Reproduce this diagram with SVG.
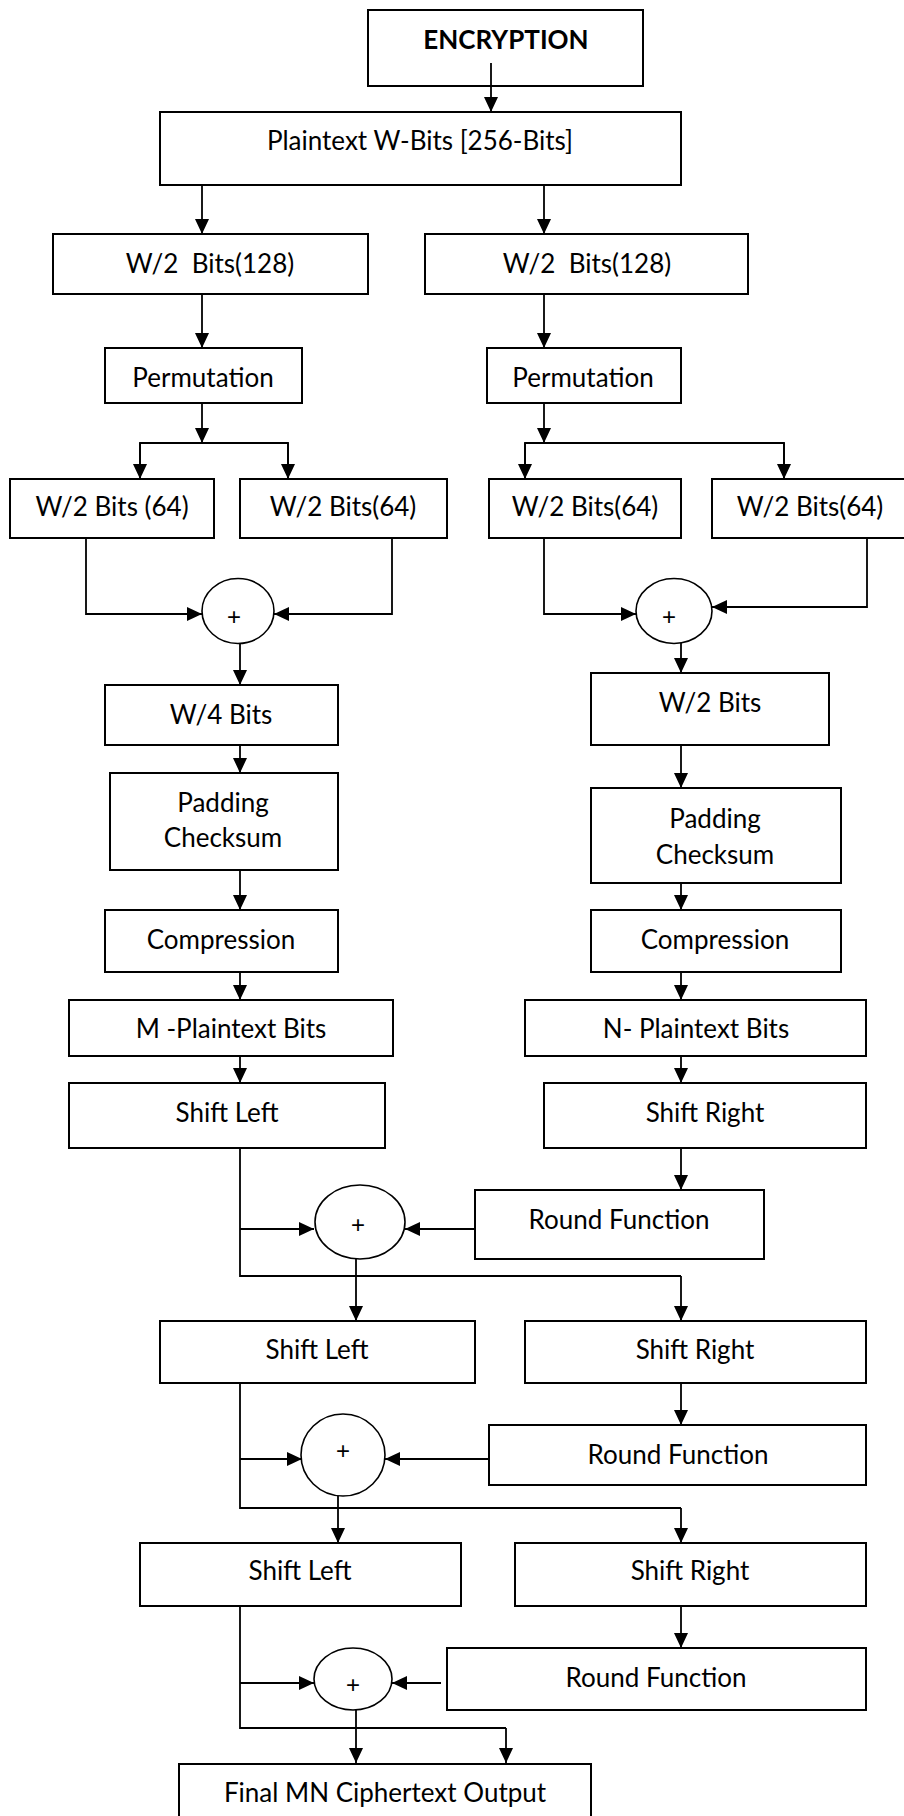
<svg xmlns="http://www.w3.org/2000/svg" width="904" height="1816" viewBox="0 0 904 1816">
<style>
.box{fill:#fff;stroke:#000;stroke-width:2}
.op{fill:#fff;stroke:#000;stroke-width:1.6}
.ln{fill:none;stroke:#000;stroke-width:1.8}
.arr{fill:none;stroke:#000;stroke-width:1.8;marker-end:url(#ah)}
text{font-family:Lato,"Liberation Sans",sans-serif;font-size:26px;fill:#000;text-anchor:middle}
.b{font-weight:bold}
.p{font-family:"Liberation Sans",sans-serif;font-size:24px}
</style>
<defs>
<marker id="ah" markerUnits="userSpaceOnUse" markerWidth="15" markerHeight="14" refX="15" refY="7" orient="auto">
<path d="M0,0 L15,7 L0,14 z" fill="#000"/>
</marker>
</defs>
<rect width="904" height="1816" fill="#fff"/>
<g id="encryption"><rect class="box" x="368" y="10" width="275" height="76"/><text class="b" x="506" y="49">ENCRYPTION</text></g>
<g id="plaintext"><rect class="box" x="160" y="112" width="521" height="73"/><text x="420" y="150">Plaintext W-Bits [256-Bits]</text></g>
<g id="w128-left"><rect class="box" x="53" y="234" width="315" height="60"/><text x="210" y="273" xml:space="preserve">W/2  Bits(128)</text></g>
<g id="w128-right"><rect class="box" x="425" y="234" width="323" height="60"/><text x="587" y="273" xml:space="preserve">W/2  Bits(128)</text></g>
<g id="perm-left"><rect class="box" x="105" y="348" width="197" height="55"/><text x="203" y="387">Permutation</text></g>
<g id="perm-right"><rect class="box" x="487" y="348" width="194" height="55"/><text x="583" y="387">Permutation</text></g>
<g id="w64-a"><rect class="box" x="10" y="479" width="204" height="59"/><text x="112" y="516">W/2 Bits (64)</text></g>
<g id="w64-b"><rect class="box" x="240" y="479" width="207" height="59"/><text x="343" y="516">W/2 Bits(64)</text></g>
<g id="w64-c"><rect class="box" x="489" y="479" width="192" height="59"/><text x="585" y="516">W/2 Bits(64)</text></g>
<g id="w64-d"><rect class="box" x="712" y="479" width="200" height="59"/><text x="810" y="516">W/2 Bits(64)</text></g>
<g id="xor-1"><ellipse class="op" cx="238" cy="611" rx="36" ry="32.5"/><text class="p" x="234" y="625">+</text></g>
<g id="xor-2"><ellipse class="op" cx="674" cy="611" rx="38" ry="32.5"/><text class="p" x="669" y="625">+</text></g>
<g id="w4"><rect class="box" x="105" y="685" width="233" height="60"/><text x="221" y="724">W/4 Bits</text></g>
<g id="w2"><rect class="box" x="591" y="673" width="238" height="72"/><text x="710" y="712">W/2 Bits</text></g>
<g id="pad-left"><rect class="box" x="110" y="773" width="228" height="97"/><text x="223" y="812">Padding</text><text x="223" y="847">Checksum</text></g>
<g id="pad-right"><rect class="box" x="591" y="788" width="250" height="95"/><text x="715" y="828">Padding</text><text x="715" y="864">Checksum</text></g>
<g id="comp-left"><rect class="box" x="105" y="910" width="233" height="62"/><text x="221" y="949">Compression</text></g>
<g id="comp-right"><rect class="box" x="591" y="910" width="250" height="62"/><text x="715" y="949">Compression</text></g>
<g id="m-plain"><rect class="box" x="69" y="1000" width="324" height="56"/><text x="231" y="1038">M -Plaintext Bits</text></g>
<g id="n-plain"><rect class="box" x="525" y="1000" width="341" height="56"/><text x="696" y="1038">N- Plaintext Bits</text></g>
<g id="shl-1"><rect class="box" x="69" y="1083" width="316" height="65"/><text x="227" y="1122">Shift Left</text></g>
<g id="shr-1"><rect class="box" x="544" y="1083" width="322" height="65"/><text x="705" y="1122">Shift Right</text></g>
<g id="rf-1"><rect class="box" x="475" y="1190" width="289" height="69"/><text x="619" y="1229">Round Function</text></g>
<g id="xor-3"><ellipse class="op" cx="360" cy="1222" rx="45" ry="37"/><text class="p" x="358" y="1233">+</text></g>
<g id="shl-2"><rect class="box" x="160" y="1321" width="315" height="62"/><text x="317" y="1359">Shift Left</text></g>
<g id="shr-2"><rect class="box" x="525" y="1321" width="341" height="62"/><text x="695" y="1359">Shift Right</text></g>
<g id="rf-2"><rect class="box" x="489" y="1425" width="377" height="60"/><text x="678" y="1464">Round Function</text></g>
<g id="xor-4"><ellipse class="op" cx="343" cy="1455" rx="42" ry="41"/><text class="p" x="343" y="1459">+</text></g>
<g id="shl-3"><rect class="box" x="140" y="1543" width="321" height="63"/><text x="300" y="1580">Shift Left</text></g>
<g id="shr-3"><rect class="box" x="515" y="1543" width="351" height="63"/><text x="690" y="1580">Shift Right</text></g>
<g id="rf-3"><rect class="box" x="447" y="1648" width="419" height="62"/><text x="656" y="1687">Round Function</text></g>
<g id="xor-5"><ellipse class="op" cx="353" cy="1679" rx="39" ry="31"/><text class="p" x="353" y="1693">+</text></g>
<g id="final"><rect class="box" x="179" y="1764" width="412" height="70"/><text x="385" y="1802">Final MN Ciphertext Output</text></g>
<g id="connectors">
<line class="arr" x1="491" y1="63" x2="491" y2="112"/>
<line class="arr" x1="202" y1="185" x2="202" y2="234"/>
<line class="arr" x1="544" y1="185" x2="544" y2="234"/>
<line class="arr" x1="202" y1="294" x2="202" y2="348"/>
<line class="arr" x1="544" y1="294" x2="544" y2="348"/>
<line class="arr" x1="202" y1="403" x2="202" y2="443"/>
<polyline class="ln" points="140,479 140,443 288,443 288,479"/>
<line class="arr" x1="140" y1="443" x2="140" y2="479"/>
<line class="arr" x1="288" y1="443" x2="288" y2="479"/>
<line class="arr" x1="544" y1="403" x2="544" y2="443"/>
<polyline class="ln" points="525,479 525,443 784,443 784,479"/>
<line class="arr" x1="525" y1="443" x2="525" y2="479"/>
<line class="arr" x1="784" y1="443" x2="784" y2="479"/>
<polyline class="arr" points="86,538 86,614 202,614"/>
<polyline class="arr" points="392,538 392,614 274,614"/>
<polyline class="arr" points="544,538 544,614 636,614"/>
<polyline class="arr" points="867,538 867,607 712,607"/>
<line class="arr" x1="240" y1="643" x2="240" y2="685"/>
<line class="arr" x1="681" y1="643" x2="681" y2="673"/>
<line class="arr" x1="240" y1="745" x2="240" y2="773"/>
<line class="arr" x1="240" y1="870" x2="240" y2="910"/>
<line class="arr" x1="240" y1="972" x2="240" y2="1000"/>
<line class="arr" x1="240" y1="1056" x2="240" y2="1083"/>
<line class="arr" x1="681" y1="745" x2="681" y2="788"/>
<line class="arr" x1="681" y1="883" x2="681" y2="910"/>
<line class="arr" x1="681" y1="972" x2="681" y2="1000"/>
<line class="arr" x1="681" y1="1056" x2="681" y2="1083"/>
<line class="arr" x1="681" y1="1148" x2="681" y2="1190"/>
<polyline class="ln" points="240,1148 240,1276 681,1276"/>
<line class="arr" x1="240" y1="1229" x2="314" y2="1229"/>
<line class="arr" x1="681" y1="1276" x2="681" y2="1321"/>
<line class="arr" x1="475" y1="1229" x2="405" y2="1229"/>
<line class="arr" x1="356" y1="1259" x2="356" y2="1321"/>
<line class="arr" x1="681" y1="1383" x2="681" y2="1425"/>
<polyline class="ln" points="240,1383 240,1508 681,1508"/>
<line class="arr" x1="240" y1="1459" x2="302" y2="1459"/>
<line class="arr" x1="681" y1="1508" x2="681" y2="1543"/>
<line class="arr" x1="489" y1="1459" x2="385" y2="1459"/>
<line class="arr" x1="338" y1="1496" x2="338" y2="1543"/>
<line class="arr" x1="681" y1="1606" x2="681" y2="1648"/>
<polyline class="ln" points="240,1606 240,1728 506,1728"/>
<line class="arr" x1="240" y1="1683" x2="314" y2="1683"/>
<line class="arr" x1="506" y1="1728" x2="506" y2="1763"/>
<line class="arr" x1="441" y1="1683" x2="392" y2="1683"/>
<line class="arr" x1="356" y1="1710" x2="356" y2="1763"/>
</g>
</svg>
